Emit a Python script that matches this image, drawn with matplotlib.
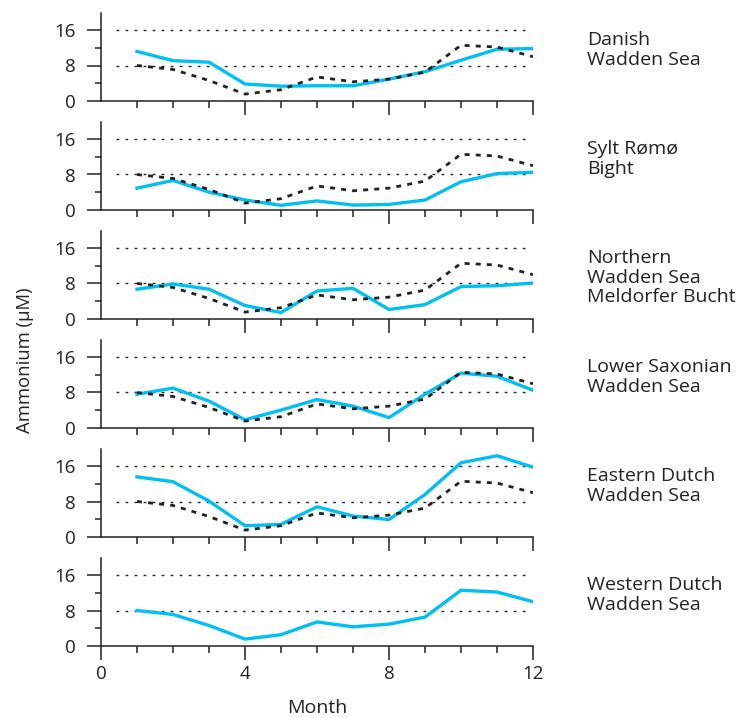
import matplotlib
matplotlib.use("Agg")
import matplotlib.pyplot as plt
from matplotlib.ticker import FixedLocator

plt.rcParams['font.family'] = ['Open Sans', 'DejaVu Sans']

# === DATA ===
months = list(range(1, 13))

# Western Dutch Wadden Sea (also drawn as dashed reference in the other panels)
western_dutch = [8.0, 7.1, 4.6, 1.5, 2.5, 5.4, 4.3, 4.9, 6.5, 12.6, 12.2, 10.0]
danish = [11.2, 9.1, 8.75, 3.8, 3.3, 3.4, 3.4, 4.9, 6.6, 9.2, 11.7, 11.85]
sylt_romo = [4.9, 6.65, 4.0, 2.2, 1.0, 2.0, 1.05, 1.2, 2.2, 6.35, 8.2, 8.5]
northern = [6.7, 7.9, 6.7, 3.0, 1.4, 6.3, 6.9, 2.1, 3.2, 7.3, 7.5, 8.1]
lower_saxonian = [7.6, 9.0, 6.05, 1.8, 4.0, 6.4, 4.9, 2.3, 7.6, 12.4, 11.7, 8.5]
eastern_dutch = [13.6, 12.5, 8.1, 2.5, 2.8, 6.8, 4.7, 3.9, 9.6, 16.8, 18.4, 15.8]

region_labels = [
    "Danish\nWadden Sea",
    "Sylt Rømø\nBight",
    "Northern\nWadden Sea\nMeldorfer Bucht",
    "Lower Saxonian\nWadden Sea",
    "Eastern Dutch\nWadden Sea",
    "Western Dutch\nWadden Sea",
]
series = [danish, sylt_romo, northern, lower_saxonian, eastern_dutch, western_dutch]
show_reference = [True, True, True, True, True, False]

BLUE = "#00bff3"
DARK = "#222222"
W, H = 752, 718

fig = plt.figure(figsize=(W / 100, H / 100), dpi=100)

ax_left = 101 / W
ax_width = 432 / W
ax_height = 88 / H

for i, (vals, label, ref) in enumerate(zip(series, region_labels, show_reference)):
    y0 = 100.7 + 109 * i  # pixel row of the zero line
    ax = fig.add_axes([ax_left, 1 - y0 / H, ax_width, ax_height])
    ax.set_xlim(0, 12)
    ax.set_ylim(0, 20)

    # dotted reference lines at 8 and 16
    ax.hlines([8, 16], 0.42, 11.8, colors=DARK, linewidth=1.0,
              linestyles=(0, (2, 4.5)), zorder=1)

    ax.plot(months, vals, color=BLUE, linewidth=2.4, zorder=3)
    if ref:
        ax.plot(months, western_dutch, color=DARK, linewidth=2.0,
                linestyle=(0, (1.8, 2.2)), zorder=4)

    for s in ['top', 'right']:
        ax.spines[s].set_visible(False)
    for s in ['left', 'bottom']:
        ax.spines[s].set_linewidth(1.1)
        ax.spines[s].set_color(DARK)

    # y ticks
    ax.yaxis.set_major_locator(FixedLocator([0, 8, 16]))
    ax.yaxis.set_minor_locator(FixedLocator([4, 12]))
    ax.tick_params(axis='y', which='major', length=10, width=1.1, color=DARK,
                   labelsize=13.5, pad=8, labelcolor=DARK)
    ax.tick_params(axis='y', which='minor', length=4.5, width=1.1, color=DARK)

    # x ticks
    last = i == len(series) - 1
    if last:
        ax.xaxis.set_major_locator(FixedLocator([0, 4, 8, 12]))
    else:
        ax.xaxis.set_major_locator(FixedLocator([4, 8, 12]))
    ax.xaxis.set_minor_locator(FixedLocator([1, 2, 3, 5, 6, 7, 9, 10, 11]))
    ax.tick_params(axis='x', which='major', length=10, width=1.1, color=DARK,
                   labelsize=13.5, pad=4, labelcolor=DARK, labelbottom=last)
    ax.tick_params(axis='x', which='minor', length=5, width=1.1, color=DARK)

    ax.text(587 / W, 1 - (y0 - 70) / H, label, transform=fig.transFigure,
            ha='left', va='top', fontsize=14, color=DARK, linespacing=1.13)

fig.text(25 / W, 1 - 360 / H, "Ammonium (µM)", rotation=90, ha='center',
         va='center', fontsize=13.3, color=DARK)
fig.text(317 / W, 1 - 708 / H, "Month", ha='center', va='center',
         fontsize=14, color=DARK)

fig.savefig("out.png", dpi=100)
